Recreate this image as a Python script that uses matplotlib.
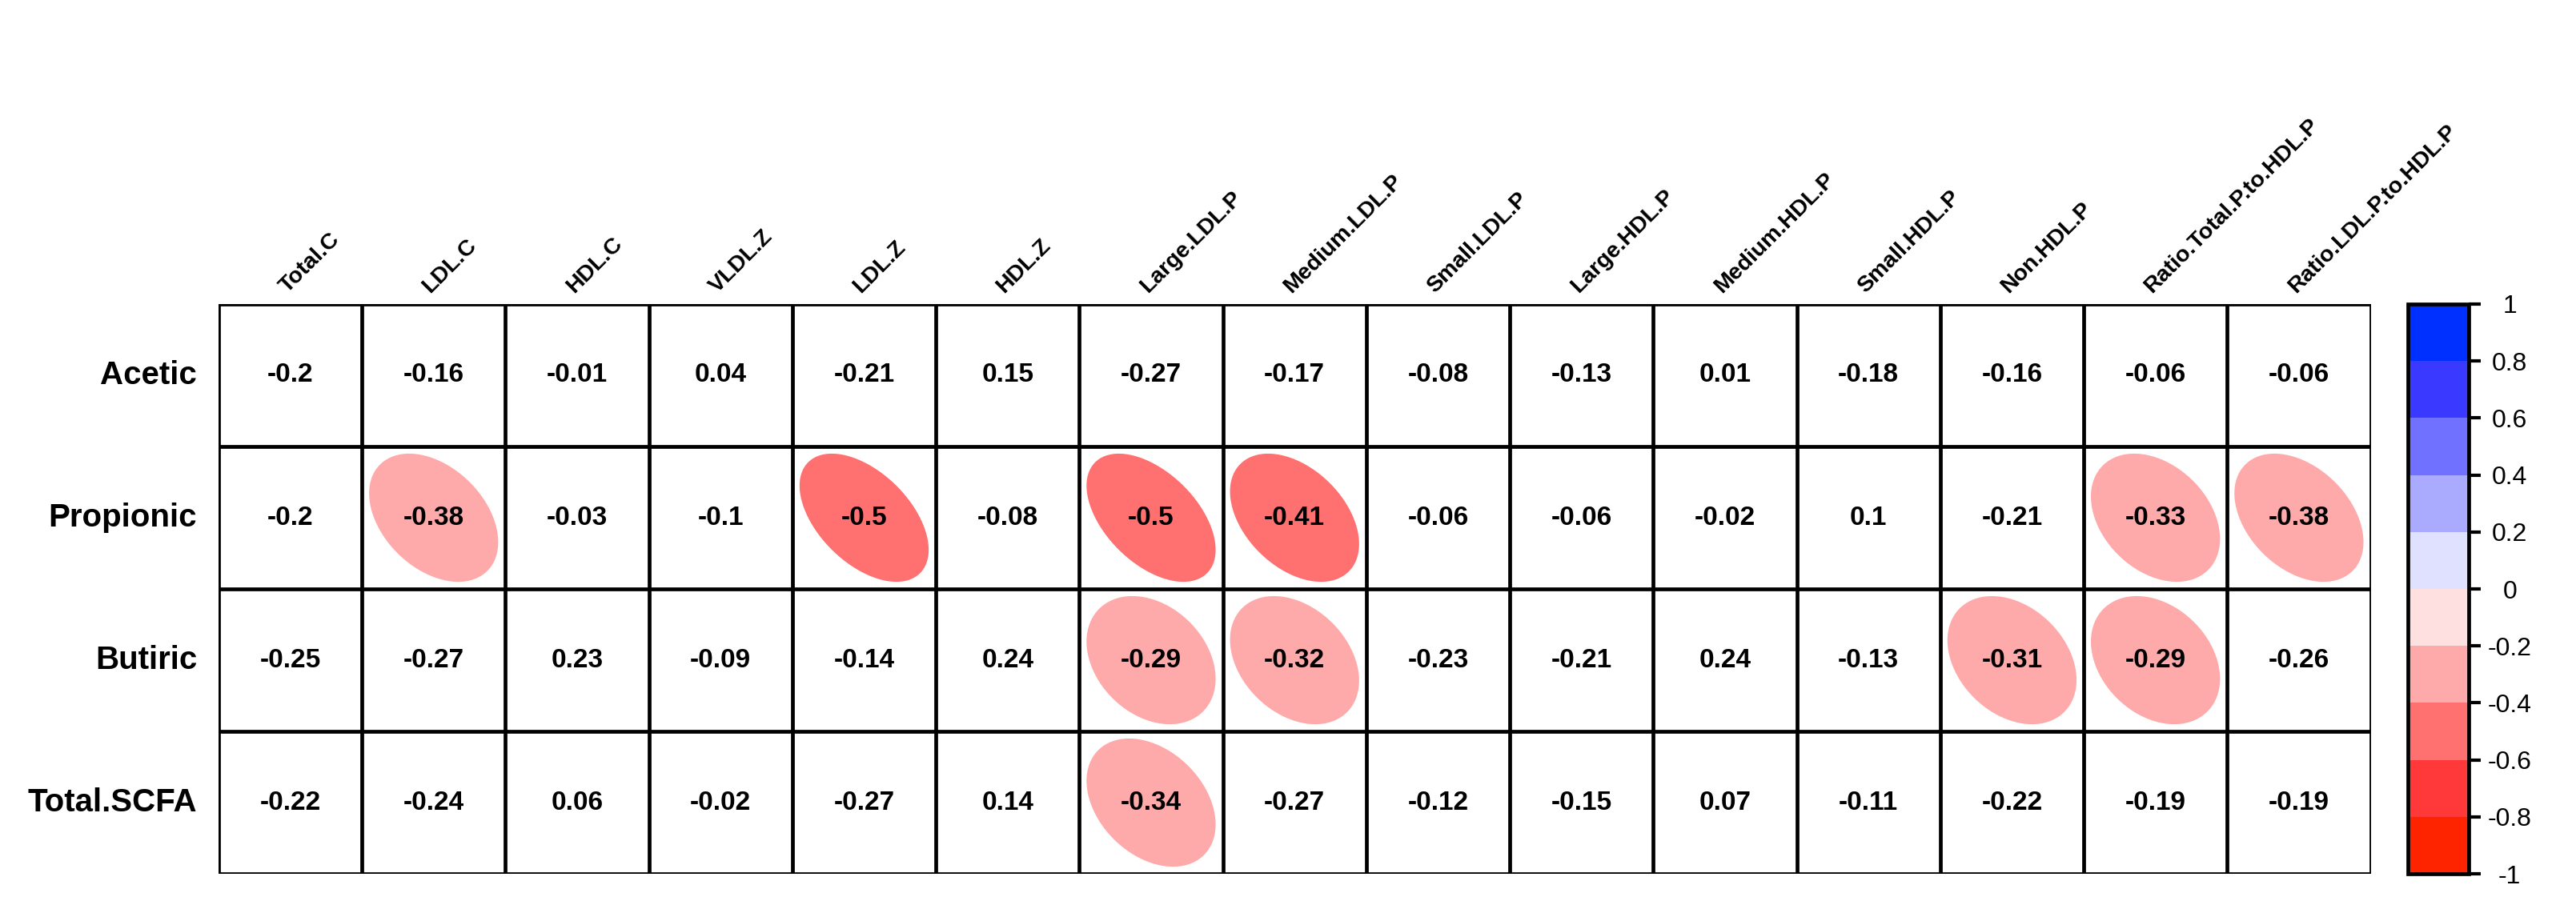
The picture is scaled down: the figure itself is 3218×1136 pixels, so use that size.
import numpy as np
import matplotlib.pyplot as plt
from matplotlib.colors import ListedColormap, BoundaryNorm
from matplotlib.cm import ScalarMappable
from matplotlib.patches import Polygon

plt.rcParams['font.family'] = ['Liberation Sans', 'DejaVu Sans']

ROWS = ["Acetic", "Propionic", "Butiric", "Total.SCFA"]
COLS = ["Total.C", "LDL.C", "HDL.C", "VLDL.Z", "LDL.Z", "HDL.Z",
        "Large.LDL.P", "Medium.LDL.P", "Small.LDL.P", "Large.HDL.P",
        "Medium.HDL.P", "Small.HDL.P", "Non.HDL.P",
        "Ratio.Total.P.to.HDL.P", "Ratio.LDL.P.to.HDL.P"]

ACETIC = [-0.2, -0.16, -0.01, 0.04, -0.21, 0.15, -0.27, -0.17, -0.08, -0.13, 0.01, -0.18, -0.16, -0.06, -0.06]
PROPIONIC = [-0.2, -0.38, -0.03, -0.1, -0.5, -0.08, -0.5, -0.41, -0.06, -0.06, -0.02, 0.1, -0.21, -0.33, -0.38]
BUTIRIC = [-0.25, -0.27, 0.23, -0.09, -0.14, 0.24, -0.29, -0.32, -0.23, -0.21, 0.24, -0.13, -0.31, -0.29, -0.26]
TOTAL_SCFA = [-0.22, -0.24, 0.06, -0.02, -0.27, 0.14, -0.34, -0.27, -0.12, -0.15, 0.07, -0.11, -0.22, -0.19, -0.19]

# 1 = significant (ellipse drawn), 0 = blank
SIG_ACETIC = [0] * 15
SIG_PROPIONIC = [0, 1, 0, 0, 1, 0, 1, 1, 0, 0, 0, 0, 0, 1, 1]
SIG_BUTIRIC = [0, 0, 0, 0, 0, 0, 1, 1, 0, 0, 0, 0, 1, 1, 0]
SIG_TOTAL_SCFA = [0, 0, 0, 0, 0, 0, 1, 0, 0, 0, 0, 0, 0, 0, 0]

CB_TICKS = [-1, -0.8, -0.6, -0.4, -0.2, 0, 0.2, 0.4, 0.6, 0.8, 1]
CB_LABELS = ["-1", "-0.8", "-0.6", "-0.4", "-0.2", "0", "0.2", "0.4", "0.6", "0.8", "1"]

PALETTE = ["#FF2400", "#FF3939", "#FF7171", "#FFAAAA", "#FFE0E0",
           "#E0E0FF", "#AAAAFF", "#7171FF", "#3939FF", "#0030FF"]

corr = np.array([ACETIC, PROPIONIC, BUTIRIC, TOTAL_SCFA])
sig = np.array([SIG_ACETIC, SIG_PROPIONIC, SIG_BUTIRIC, SIG_TOTAL_SCFA])
n_rows, n_cols = corr.shape

cmap = ListedColormap(PALETTE)
norm = BoundaryNorm(np.linspace(-1, 1, 11), cmap.N)


def ellipse_points(rho, scale=0.9):
    k = np.linspace(0, 2 * np.pi, 99)
    d = np.arccos(rho)
    x = np.cos(k + d / 2) / 2 * scale
    y = np.cos(k - d / 2) / 2 * scale
    return np.column_stack([x, y])


fig = plt.figure(figsize=(32.18, 11.36), dpi=100)
ax = fig.add_axes([0.0848, 0.0387, 0.8355, 0.6268])

for i in range(n_rows):
    yc = n_rows - 1 - i
    for j in range(n_cols):
        r = corr[i, j]
        if sig[i, j]:
            pts = ellipse_points(r) + [j, yc]
            ax.add_patch(Polygon(pts, closed=True, facecolor=cmap(norm(r)),
                                 edgecolor='none', zorder=1))
        ax.text(j, yc, f"{r:g}", ha='center', va='center', fontsize=24,
                fontweight='bold', zorder=3)

# grid lines
for j in range(n_cols + 1):
    ax.plot([j - 0.5, j - 0.5], [-0.5, n_rows - 0.5], color='black', lw=3.4,
            solid_capstyle='projecting', zorder=4)
for i in range(n_rows + 1):
    ax.plot([-0.5, n_cols - 0.5], [i - 0.5, i - 0.5], color='black', lw=3.4,
            solid_capstyle='projecting', zorder=4)

ax.set_xlim(-0.5, n_cols - 0.5)
ax.set_ylim(-0.5, n_rows - 0.5)
ax.axis('off')

for i, name in enumerate(ROWS):
    ax.text(-0.65, n_rows - 1 - i, name, ha='right', va='center',
            fontsize=29, fontweight='bold')

for j, name in enumerate(COLS):
    ax.text(j + 0.0, n_rows - 0.5 + 0.05, name, rotation=45,
            rotation_mode='anchor', ha='left', va='bottom',
            fontsize=20.5, fontweight='bold')

# colour legend
cax = fig.add_axes([0.9347, 0.0387, 0.0236, 0.6268])
cb = fig.colorbar(ScalarMappable(norm=norm, cmap=cmap), cax=cax, ticks=CB_TICKS)
cb.outline.set_linewidth(3.4)
cax.set_yticklabels(CB_LABELS)
cax.tick_params(axis='y', length=11, width=3, labelsize=23, pad=26)
for lab in cax.get_yticklabels():
    lab.set_horizontalalignment('center')

fig.savefig("out.png", dpi=100)
